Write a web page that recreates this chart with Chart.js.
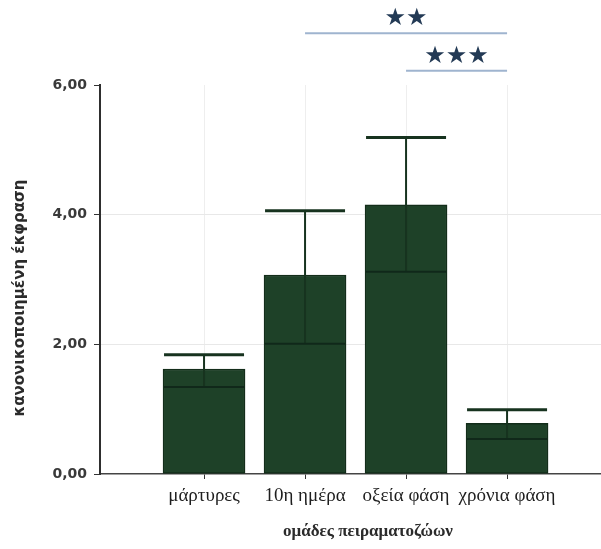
<!DOCTYPE html>
<html lang="el">
<head>
<meta charset="utf-8">
<title>κανονικοποιημένη έκφραση ανά ομάδα</title>
<script src="https://cdn.jsdelivr.net/npm/chart.js@4"></script>
<style>
  html, body { margin: 0; padding: 0; background: #ffffff; }
  canvas { display: block; }
</style>
</head>
<body>
<canvas id="chart" width="601" height="549"></canvas>
<script>
// Groups and their positions on the x scale
const groups = ['μάρτυρες', '10η ημέρα', 'οξεία φάση', 'χρόνια φάση'];
const groupPos = [1, 2, 3, 4];

// Mean normalised expression per group, with the error bar bounds
const means = [1.62, 3.07, 4.15, 0.78];
const errUpper = [1.84, 4.06, 5.19, 0.99];
const errLower = [1.34, 2.01, 3.12, 0.54];

// Y axis ticks
const yTicks = [0, 2, 4, 6];

// Significance brackets: from group, to group, height, marker
const sigFrom = [2, 3];
const sigTo = [4, 4];
const sigLevel = [6.80, 6.22];
const sigMarks = ['★★', '★★★'];

const barFill = '#1e4128';
const barEdge = '#132d1a';
const whisker = '#17331f';

const overlay = {
  id: 'overlay',
  afterDatasetsDraw(chart) {
    const { ctx, scales: { x, y } } = chart;
    ctx.save();
    const half = 40;
    groupPos.forEach((p, i) => {
      const cx = x.getPixelForValue(p);
      const yTop = y.getPixelForValue(errUpper[i]);
      const yLow = y.getPixelForValue(errLower[i]);
      // vertical whisker through the bar
      ctx.strokeStyle = whisker;
      ctx.lineWidth = 2;
      ctx.beginPath();
      ctx.moveTo(cx, yTop);
      ctx.lineTo(cx, yLow);
      ctx.stroke();
      // upper cap
      ctx.lineWidth = 3;
      ctx.beginPath();
      ctx.moveTo(cx - half, yTop);
      ctx.lineTo(cx + half, yTop);
      ctx.stroke();
      // lower cap inside the bar
      ctx.strokeStyle = '#10281a';
      ctx.lineWidth = 2;
      ctx.beginPath();
      ctx.moveTo(cx - half, yLow);
      ctx.lineTo(cx + half, yLow);
      ctx.stroke();
    });
    ctx.restore();
  },
  afterDraw(chart) {
    const { ctx, scales: { x, y } } = chart;
    ctx.save();
    // significance brackets
    sigFrom.forEach((f, i) => {
      const x1 = x.getPixelForValue(f);
      const x2 = x.getPixelForValue(sigTo[i]);
      const ly = y.getPixelForValue(sigLevel[i]);
      ctx.strokeStyle = '#9fb4cf';
      ctx.lineWidth = 2;
      ctx.beginPath();
      ctx.moveTo(x1, ly);
      ctx.lineTo(x2, ly);
      ctx.stroke();
      ctx.fillStyle = '#233a55';
      ctx.font = '24px "DejaVu Sans"';
      ctx.textAlign = 'center';
      ctx.textBaseline = 'middle';
      ctx.fillText(sigMarks[i], (x1 + x2) / 2, ly - 14);
    });
    // axis titles
    ctx.fillStyle = '#2b2b2b';
    ctx.font = 'bold 17px "Liberation Serif"';
    ctx.textAlign = 'center';
    ctx.textBaseline = 'middle';
    ctx.fillText('ομάδες πειραματοζώων', 368, 532);
    ctx.translate(20, 298);
    ctx.rotate(-Math.PI / 2);
    ctx.font = 'bold 15px "DejaVu Sans"';
    ctx.fillText('κανονικοποιημένη έκφραση', 0, 0);
    ctx.restore();
  }
};

new Chart(document.getElementById('chart'), {
  type: 'bar',
  data: {
    datasets: [{
      data: groupPos.map((p, i) => ({ x: p, y: means[i] })),
      backgroundColor: barFill,
      borderColor: barEdge,
      borderWidth: 1.5,
      borderSkipped: false,
      barThickness: 82
    }]
  },
  options: {
    responsive: false,
    animation: false,
    devicePixelRatio: 1,
    layout: { padding: { top: 85, right: 0, bottom: 0, left: 0 } },
    plugins: { legend: { display: false }, tooltip: { enabled: false } },
    scales: {
      x: {
        type: 'linear',
        offset: false,
        min: -0.03,
        max: 4.93,
        afterBuildTicks: s => { s.ticks = groupPos.map(v => ({ value: v })); },
        afterFit: s => { s.height = 75; },
        ticks: {
          callback: v => groups[groupPos.indexOf(v)] ?? '',
          color: '#1e1e1e',
          font: { family: '"Liberation Serif"', size: 19 },
          padding: 6,
          maxRotation: 0,
          autoSkip: false
        },
        grid: { offset: false, color: '#eeeeee', lineWidth: 1, tickLength: 5, tickColor: '#333333' },
        border: { color: '#444444', width: 1.5 }
      },
      y: {
        min: 0,
        max: 6,
        afterBuildTicks: s => { s.ticks = yTicks.map(v => ({ value: v })); },
        afterFit: s => { s.width = 100; },
        ticks: {
          callback: v => v.toFixed(2).replace('.', ','),
          color: '#3a3a3a',
          font: { family: '"DejaVu Sans"', size: 14, weight: 'bold' },
          padding: 7
        },
        grid: {
          color: c => (c.tick && (c.tick.value === 2 || c.tick.value === 4)) ? '#e8e8e8' : 'rgba(0,0,0,0)',
          tickColor: '#333333',
          tickLength: 6
        },
        border: { color: '#2e2e2e', width: 2 }
      }
    }
  },
  plugins: [overlay]
});
</script>
</body>
</html>
